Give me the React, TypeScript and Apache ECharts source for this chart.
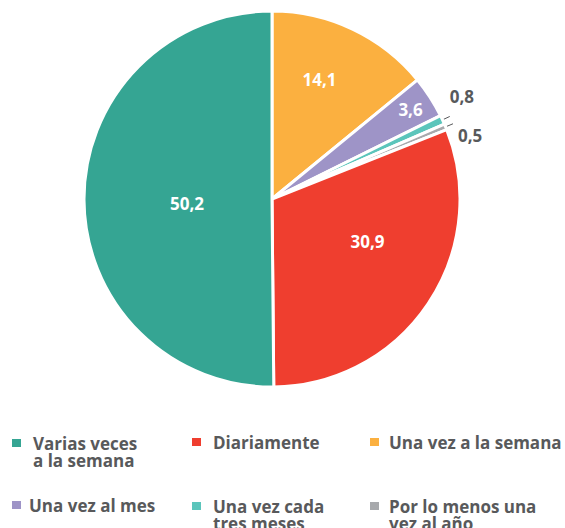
import React, { useEffect, useRef } from 'react';
import * as echarts from 'echarts';

// Slices in clockwise order starting at 12 o'clock
const categories = [
  'Una vez a la semana',
  'Una vez al mes',
  'Una vez cada tres meses',
  'Por lo menos una vez al año',
  'Diariamente',
  'Varias veces a la semana',
];
const values = [14.1, 3.6, 0.8, 0.5, 30.9, 50.2];
const colors = ['#fbb040', '#9e94c7', '#5bc5bb', '#a7a9ac', '#ef3e2f', '#35a593'];

// Legend (reading order) and its wrapped texts
const legendOrder = [
  'Varias veces a la semana',
  'Diariamente',
  'Una vez a la semana',
  'Una vez al mes',
  'Una vez cada tres meses',
  'Por lo menos una vez al año',
];
const legendText = [
  'Varias veces\na la semana',
  'Diariamente',
  'Una vez a la semana',
  'Una vez al mes',
  'Una vez cada\ntres meses',
  'Por lo menos una\nvez al año',
];

const outsideIdx = [2, 3];
const labelShift: Record<number, [number, number]> = {
  0: [6, -32],
  1: [57, -37],
  2: [-5, -20],
  3: [0, 12],
  4: [15, -12],
  5: [12, 4],
};
const legendPos: [number, number][] = [
  [10, 433.5], [190, 433.5], [368, 433.5],
  [10, 496.5], [190, 496.5], [368, 496.5],
];
const legendTextPad = [6, 6, 4, 2, 6, 4];

const FONT = 'Open Sans';
const TXT = '#58595b';
const LH = 17;

export default function App() {
  const ref = useRef<HTMLDivElement>(null);
  useEffect(() => {
    if (!ref.current) return;
    const chart = echarts.init(ref.current, null, { renderer: 'svg' });
    const data = categories.map((name, i) => {
      const outside = outsideIdx.includes(i);
      return {
        name,
        value: values[i],
        itemStyle: { color: colors[i] },
        label: outside
          ? { position: 'outside', color: TXT }
          : { position: 'inside', color: '#ffffff' },
        labelLine: outside
          ? { show: true, length: 8, length2: 0, lineStyle: { color: TXT, width: 1 } }
          : { show: false },
      };
    });
    const legends = legendOrder.map((name, i) => {
      const twoLines = legendText[i].includes('\n');
      return {
        data: [name],
        left: legendPos[i][0],
        top: legendPos[i][1],
        padding: 0,
        orient: 'horizontal',
        selectedMode: false,
        itemWidth: 11,
        itemHeight: twoLines ? LH * 2 : 10,
        icon: twoLines
          ? `path://M0 0H0.01V0.01H0Z M0 3.5H11V13.5H0Z M0 ${LH * 2 - 0.01}H0.01V${LH * 2}H0Z`
          : 'rect',
        formatter: () => legendText[i],
        textStyle: {
          fontFamily: FONT,
          fontWeight: 'bold',
          fontSize: 17,
          lineHeight: LH,
          color: TXT,
          padding: [0, 0, 0, legendTextPad[i]],
        },
      };
    });
    chart.setOption({
      animation: false,
      legend: legends,
      series: [
        {
          type: 'pie',
          center: [272, 199],
          radius: [0, 188],
          startAngle: 90,
          clockwise: true,
          avoidLabelOverlap: false,
          itemStyle: { borderColor: '#ffffff', borderWidth: 3 },
          label: {
            fontFamily: FONT,
            fontWeight: 'bold',
            fontSize: 17,
            formatter: (p: any) => String(p.value).replace('.', ','),
          },
          labelLayout: (p: any) => {
            const s = labelShift[p.dataIndex] || [0, 0];
            return { dx: s[0], dy: s[1] };
          },
          emphasis: { disabled: true },
          data,
        },
      ],
    });
    return () => chart.dispose();
  }, []);
  return (
    <div
      ref={ref}
      style={{ position: 'absolute', left: 0, top: 0, width: 565, height: 528 }}
    />
  );
}
